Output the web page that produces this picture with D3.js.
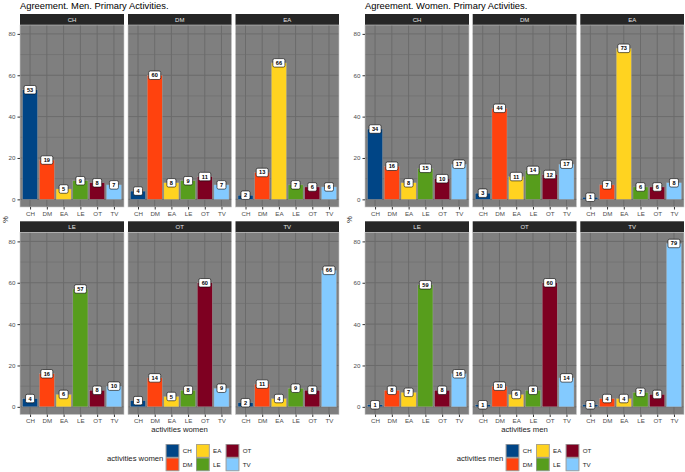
<!DOCTYPE html>
<html><head><meta charset="utf-8">
<script src="https://cdn.jsdelivr.net/npm/d3@7"></script>
<style>body{margin:0;background:#fff}svg{display:block;font-family:"Liberation Sans",Arial,sans-serif}</style>
</head><body><svg id="c" width="685" height="472"></svg>
<script>
// ---- data ----
const categories = ["CH","DM","EA","LE","OT","TV"];
const facets = ["CH","DM","EA","LE","OT","TV"];
const palette = ["#004586","#ff420e","#ffd320","#579d1c","#7e0021","#83caff"];
const yTicks = [0,20,40,60,80];
const yMinor = [10,30,50,70];

// Agreement. Men. (facet = men's activity, x = women's activity)
const men_CH = [53,19,5,9,8,7];
const men_DM = [4,60,8,9,11,7];
const men_EA = [2,13,66,7,6,6];
const men_LE = [4,16,6,57,8,10];
const men_OT = [3,14,5,8,60,9];
const men_TV = [2,11,4,9,8,66];
// Agreement. Women. (facet = women's activity, x = men's activity)
const women_CH = [34,16,8,15,10,17];
const women_DM = [3,44,11,14,12,17];
const women_EA = [1,7,73,6,6,8];
const women_LE = [1,8,7,59,8,16];
const women_OT = [1,10,6,8,60,14];
const women_TV = [1,4,4,7,6,79];

const charts = [
  {title:"Agreement. Men. Primary Activities.", xTitle:"activities women",
   values:[men_CH,men_DM,men_EA,men_LE,men_OT,men_TV],
   cols:[[20,124],[128,231.5],[235.5,339]], yLab:5, legendTitleX:107, keyX:[165.7,196,225.7]},
  {title:"Agreement. Women. Primary Activities.", xTitle:"activities men",
   values:[women_CH,women_DM,women_EA,women_LE,women_OT,women_TV],
   cols:[[365,469],[472.7,576.5],[580.3,684]], yLab:349, legendTitleX:456.7, keyX:[505.7,536,565.7]}
];
const rows = [{stripTop:14, top:25, bottom:207},{stripTop:221.3, top:232.5, bottom:414.5}];

const svg = d3.select("#c");
const color = d3.scaleOrdinal().domain(categories).range(palette);

charts.forEach(ch => {
  const g = svg.append("g");
  g.append("text").attr("x", ch.cols[0][0]).attr("y", 9).attr("font-size", 9.4).style("fill","#000").text(ch.title);
  facets.forEach((f, fi) => {
    const r = rows[Math.floor(fi/3)], c = ch.cols[fi%3];
    const [x0,x1] = c;
    const step = (x1-x0)/6.2;
    const x = d3.scalePoint().domain(categories).range([x0+0.6*step, x1-0.6*step]);
    const y = d3.scaleLinear().domain([-3.7, 84.3]).range([r.bottom, r.top]);
    const fg = g.append("g");
    // strip
    fg.append("rect").attr("x",x0).attr("y",r.stripTop).attr("width",x1-x0).attr("height",r.top-r.stripTop).attr("fill","#262626");
    fg.append("text").attr("x",(x0+x1)/2).attr("y",(r.stripTop+r.top)/2+2).attr("text-anchor","middle")
      .attr("font-size",6).style("fill","#e5e5e5").text(f);
    // panel
    fg.append("rect").attr("x",x0).attr("y",r.top).attr("width",x1-x0).attr("height",r.bottom-r.top).attr("fill","#7f7f7f");
    yMinor.forEach(v => fg.append("line").attr("x1",x0).attr("x2",x1).attr("y1",y(v)).attr("y2",y(v)).attr("stroke","#6b6b6b").attr("stroke-width",0.5));
    yTicks.forEach(v => fg.append("line").attr("x1",x0).attr("x2",x1).attr("y1",y(v)).attr("y2",y(v)).attr("stroke","#6b6b6b").attr("stroke-width",1));
    categories.forEach(k => fg.append("line").attr("x1",x(k)).attr("x2",x(k)).attr("y1",r.top).attr("y2",r.bottom).attr("stroke","#6b6b6b").attr("stroke-width",1));
    const vals = ch.values[fi];
    const bw = step*0.9;
    fg.selectAll("rect.bar").data(categories).enter().append("rect").attr("class","bar")
      .attr("x", k => x(k)-bw/2).attr("width", bw)
      .attr("y", (k,i) => y(vals[i])).attr("height", (k,i) => y(0)-y(vals[i]))
      .attr("fill", k => color(k)).attr("stroke","#a6a6a6").attr("stroke-width",0.4);
    // labels
    categories.forEach((k,i) => {
      const t = String(vals[i]);
      const w = t.length>1 ? 12 : 9, h = 8.5;
      const lg = fg.append("g").attr("transform",`translate(${x(k)},${y(vals[i])})`);
      lg.append("rect").attr("x",-w/2).attr("y",-h/2).attr("width",w).attr("height",h).attr("rx",1.6)
        .attr("fill","#fff").attr("stroke","#000").attr("stroke-width",0.6);
      lg.append("text").attr("y",2).attr("text-anchor","middle").attr("font-size",5.6).attr("font-weight","bold").style("fill","#000").text(t);
    });
    fg.append("rect").attr("x",x0).attr("y",r.top).attr("width",x1-x0).attr("height",r.bottom-r.top).attr("fill","none").attr("stroke","#c8c8c8").attr("stroke-width",0.6);
    // x axis
    const xa = fg.append("g").attr("transform",`translate(0,${r.bottom})`)
      .call(d3.axisBottom(x).tickSize(2.5).tickPadding(2));
    xa.select(".domain").remove();
    xa.selectAll("line").attr("stroke","#333");
    xa.selectAll("text").attr("font-size",6.2).attr("fill","#4d4d4d").attr("font-family",null);
    if (fi%3===0) {
      const ya = fg.append("g").attr("transform",`translate(${x0},0)`)
        .call(d3.axisLeft(y).tickValues(yTicks).tickSize(2.5).tickPadding(2));
      ya.select(".domain").remove();
      ya.selectAll("line").attr("stroke","#333");
      ya.selectAll("text").attr("font-size",6.2).attr("fill","#4d4d4d").attr("font-family",null);
    }
  });
  // axis titles
  const cx = (ch.cols[0][0]+ch.cols[2][1])/2;
  g.append("text").attr("x",cx).attr("y",432).attr("text-anchor","middle").attr("font-size",7.7).style("fill","#1a1a1a").text(ch.xTitle);
  g.append("text").attr("transform",`translate(${ch.yLab+3},219.7) rotate(-90)`).attr("text-anchor","middle").attr("font-size",7.7).style("fill","#1a1a1a").text("%");
  // legend
  g.append("text").attr("x",ch.legendTitleX).attr("y",460.5).attr("font-size",7.7).style("fill","#1a1a1a").text(ch.xTitle);
  categories.forEach((k,i) => {
    const kx = ch.keyX[Math.floor(i/2)], ky = 444 + (i%2)*13.6;
    g.append("rect").attr("x",kx).attr("y",ky).attr("width",13.6).attr("height",13.6).attr("fill","#7f7f7f");
    g.append("rect").attr("x",kx+0.5).attr("y",ky+0.5).attr("width",12.6).attr("height",12.6).attr("fill",color(k)).attr("stroke","#a6a6a6").attr("stroke-width",0.6);
    g.append("text").attr("x",kx+17).attr("y",ky+9).attr("font-size",6.2).style("fill","#1a1a1a").text(k);
  });
});
</script></body></html>
